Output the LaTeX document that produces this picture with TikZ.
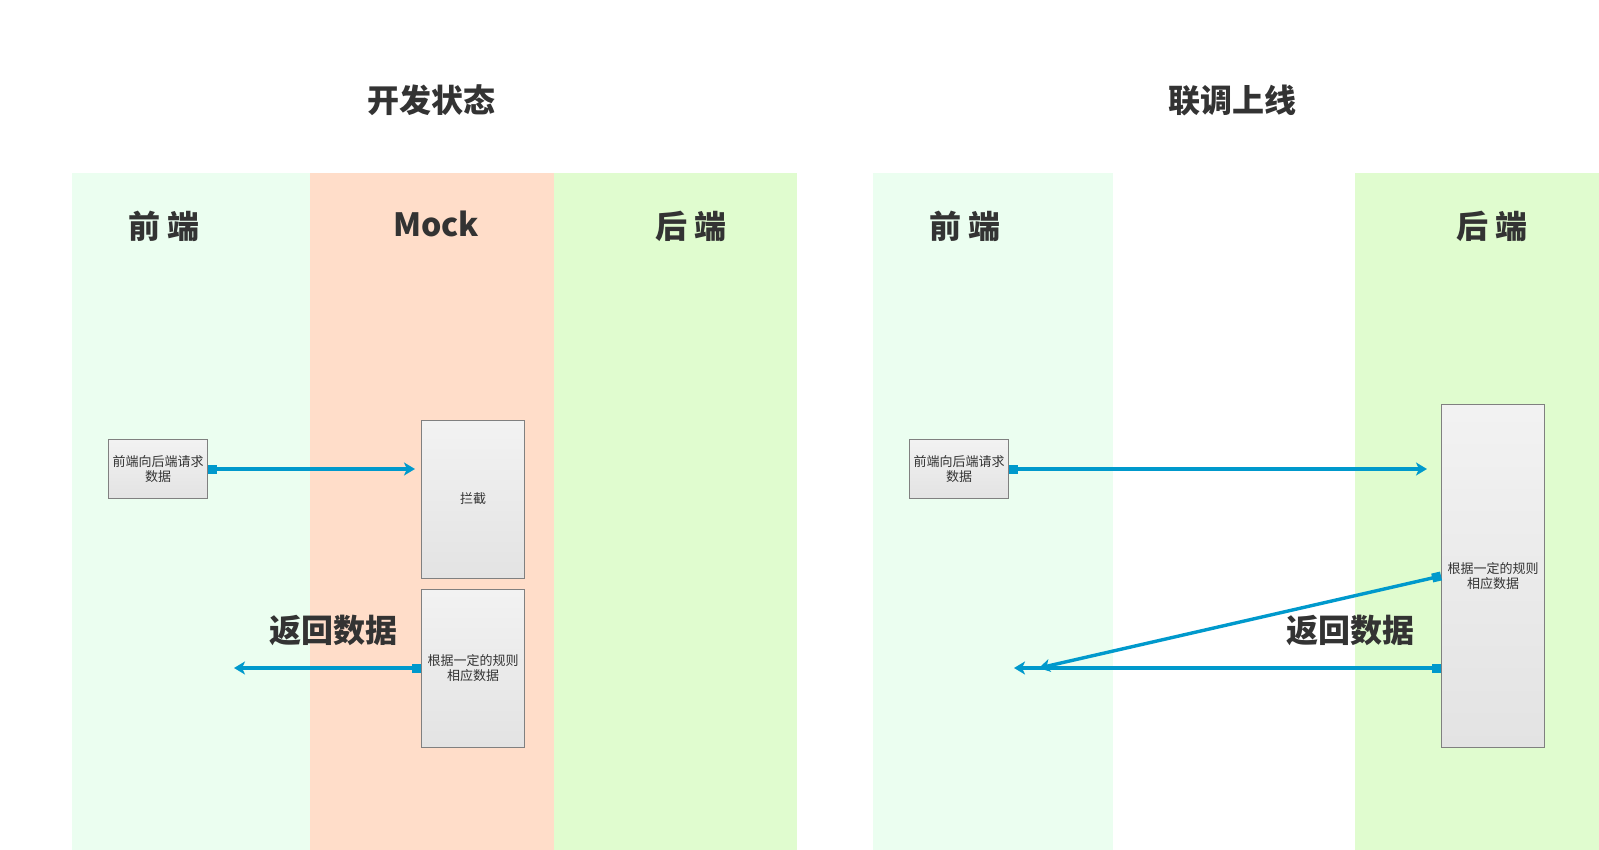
\documentclass[tikz,border=0pt]{standalone}
\usepackage{fontspec}
\setmainfont{Noto Sans CJK SC}
\usetikzlibrary{arrows.meta}
\definecolor{laneFront}{HTML}{EBFEF0}
\definecolor{laneMock}{HTML}{FFDDC9}
\definecolor{laneBack}{HTML}{E0FCCF}
\definecolor{flow}{HTML}{0099CC}
\definecolor{ink}{HTML}{333333}
\begin{document}
\begin{tikzpicture}[x=1pt, y=-1pt,
  title/.style={font=\fontsize{32}{38}\selectfont\bfseries, text=ink},
  head/.style={font=\fontsize{32}{38}\selectfont\bfseries, text=ink},
  box/.style={rectangle, draw=black!50, line width=1pt, top color=black!5,
    bottom color=black!11, text=ink, align=center, inner sep=0pt,
    font=\fontsize{13}{15}\selectfont},
  arr/.style={flow, line width=3.4pt,
    {Square[length=9pt,width=9pt]}-{Stealth[length=11pt,width=13pt,inset=3pt]}}
]
\useasboundingbox (0,0) rectangle (1599,850);
% lanes
\fill[laneFront] (72,173) rectangle (310,850);
\fill[laneMock] (310,173) rectangle (554,850);
\fill[laneBack] (554,173) rectangle (797,850);
\fill[laneFront] (873,173) rectangle (1113,850);
\fill[laneBack] (1355,173) rectangle (1599,850);

\node[title] (devT) at (431,100) {开发状态};
\node[title] (liveT) at (1232,100) {联调上线};

\node[head] (front1) at (164,226) {前 端};
\node[head] (mock1) at (436,224) {Mock};
\node[head] (back1) at (691,226) {后 端};
\node[head] (front2) at (965,226) {前 端};
\node[head] (back2) at (1492,226) {后 端};

% development
\node[box, minimum width=99pt, minimum height=59pt] (req1) at (158,469) {前端向后端请求\\数据};
\node[box, minimum width=103pt, minimum height=158pt] (cut1) at (473,499) {拦截};
\node[box, minimum width=103pt, minimum height=158pt] (rule1) at (473,668) {根据一定的规则\\相应数据};
\coordinate (ret1) at (234,668);
\draw[arr, shorten >=6pt] (req1.east) -- (cut1.west |- req1.east);
\draw[arr] (rule1.west) -- (ret1);
\node[title] (retT1) at (333,630) {返回数据};

% online
\node[box, minimum width=99pt, minimum height=59pt] (req2) at (959,469) {前端向后端请求\\数据};
\node[box, minimum width=103pt, minimum height=343pt] (rule2) at (1493,576) {根据一定的规则\\相应数据};
\coordinate (ret2) at (1014,668);
\coordinate (ret2b) at (1039,668);
\draw[arr, shorten >=14pt] (req2.east) -- (rule2.west |- req2.east);
\draw[arr] (rule2.west |- ret2) -- (ret2);
\draw[arr] (rule2.west) -- (ret2b);
\node[title] (retT2) at (1350,630) {返回数据};
\end{tikzpicture}
\end{document}
